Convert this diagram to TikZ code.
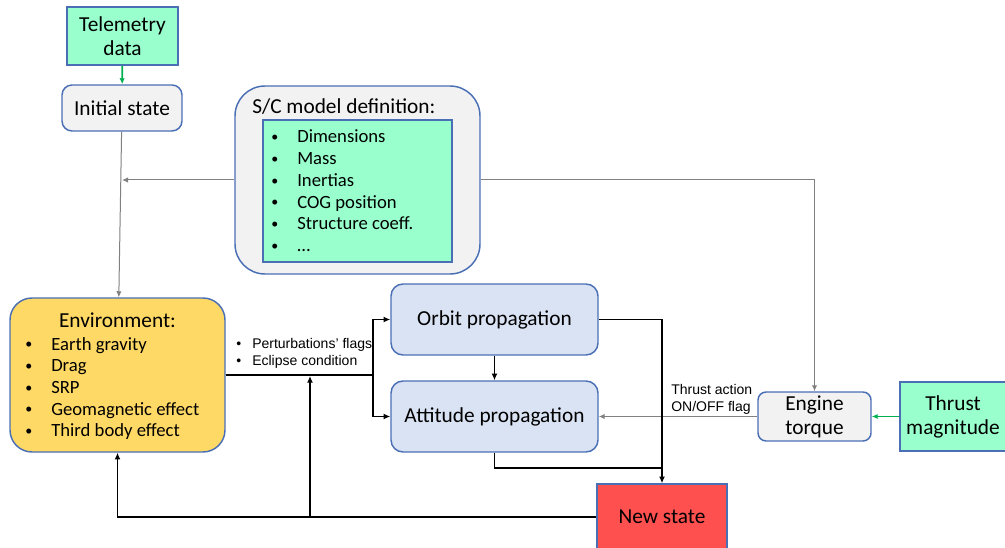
\documentclass[tikz,border=0pt]{standalone}
\usepackage{fontspec}
\setmainfont{Carlito}
\newfontfamily\smallfont{Liberation Sans}
\usetikzlibrary{arrows.meta}
\definecolor{mint}{HTML}{99FFCC}
\definecolor{boxblue}{HTML}{4A6FB5}
\definecolor{lightgray}{HTML}{F2F2F2}
\definecolor{gold}{HTML}{FFD966}
\definecolor{paleblue}{HTML}{DAE3F3}
\definecolor{newred}{HTML}{FF5050}
\definecolor{arrowgreen}{HTML}{00B050}
\definecolor{linegray}{HTML}{808080}
\newcommand{\dotitem}[1]{\makebox[#1][l]{\raisebox{0.15ex}{\scalebox{0.75}{\textbullet}}}}
\begin{document}
\begin{tikzpicture}[x=0.75pt,y=-0.75pt,
    box/.style={draw=boxblue,line width=1.1pt,align=center,inner sep=0pt,
      font=\fontsize{16}{18}\selectfont},
    list/.style={anchor=base west,inner sep=0pt,font=\fontsize{14}{16.3}\selectfont},
    label/.style={anchor=base west,inner sep=0pt,font=\smallfont\fontsize{10.5}{12.75}\selectfont},
    flow/.style={line width=1.3pt,-{Latex[length=5pt,width=4.5pt]}},
    info/.style={draw=linegray,line width=0.75pt,-{Latex[length=4.5pt,width=4pt]}},
    feed/.style={draw=arrowgreen,line width=1.3pt,-{Latex[length=4.5pt,width=4pt]}}]
  \useasboundingbox (0,0) rectangle (1005,548);

  % boxes
  \node[box,fill=mint,minimum width=83.25pt,minimum height=43.5pt] (tele) at (122.5,36) {Telemetry\\data};
  \node[box,fill=lightgray,rounded corners=7.5pt,minimum width=90pt,minimum height=34.5pt] (init) at (122,108) {Initial state};
  \node[box,fill=lightgray,rounded corners=22.5pt,minimum width=183.75pt,minimum height=141pt] (sc) at (357.5,180) {};
  \node[box,fill=mint,minimum width=141.75pt,minimum height=106.5pt] (model) at (357.5,191) {};
  \node[box,fill=gold,rounded corners=16.5pt,minimum width=161.25pt,minimum height=115.5pt] (env) at (117.5,375) {};
  \node[box,fill=paleblue,rounded corners=9pt,minimum width=155.25pt,minimum height=53.25pt] (orbit) at (494.5,319.5) {Orbit propagation};
  \node[box,fill=paleblue,rounded corners=9pt,minimum width=155.25pt,minimum height=53.25pt] (att) at (494.5,416.5) {Attitude propagation};
  \node[box,fill=newred,minimum width=97.5pt,minimum height=49.5pt] (new) at (662,517) {New state};
  \node[box,fill=lightgray,rounded corners=6pt,minimum width=84.75pt,minimum height=36.75pt] (engine) at (814.5,416.5) {Engine\\torque};
  \node[box,fill=mint,minimum width=79.5pt,minimum height=51.75pt] (thrust) at (953,416.5) {Thrust\\magnitude};

  % box contents
  \node[anchor=base west,inner sep=0pt,font=\fontsize{16}{18}\selectfont] (sctitle) at (252,114) {S/C model definition:};
  \node[list] (sclist) at (271,143) {\begin{tabular}[t]{@{}l@{}}
    \dotitem{19.5pt}Dimensions\\
    \dotitem{19.5pt}Mass\\
    \dotitem{19.5pt}Inertias\\
    \dotitem{19.5pt}COG position\\
    \dotitem{19.5pt}Structure coeff.\\
    \dotitem{19.5pt}…
  \end{tabular}};
  \node[anchor=base,inner sep=0pt,font=\fontsize{16}{18}\selectfont] (envtitle) at (117.5,328) {Environment:};
  \node[list] (envlist) at (25,350) {\begin{tabular}[t]{@{}l@{}}
    \dotitem{19.5pt}Earth gravity\\
    \dotitem{19.5pt}Drag\\
    \dotitem{19.5pt}SRP\\
    \dotitem{19.5pt}Geomagnetic effect\\
    \dotitem{19.5pt}Third body effect
  \end{tabular}};

  % labels
  \node[label] (flags) at (236,349) {\begin{tabular}[t]{@{}l@{}}
    \makebox[12pt][l]{\textbullet}Perturbations’ flags\\
    \makebox[12pt][l]{\textbullet}Eclipse condition
  \end{tabular}};
  \node[label] (onoff) at (671,394) {\begin{tabular}[t]{@{}l@{}}
    Thrust action\\ON/OFF flag
  \end{tabular}};

  % junctions
  \coordinate (split) at (373,375);
  \coordinate (merge) at (662,468);
  \coordinate (fb) at (310,517);
  \coordinate (fbtop) at (310,376);
  \coordinate (hook) at (122,180);

  % connectors
  \draw[feed] (tele) -- (init);
  \draw[feed] (thrust) -- (engine);
  \draw[info] (init) -- (env);
  \draw[info] (sc.west) -- (hook);
  \draw[info] (sc.east) -| (engine.north);
  \draw[info] (engine) -- (att);
  \begin{scope}[line width=1.3pt]
    \draw (env) -- (split);
    \draw[flow] (split) |- (orbit);
    \draw[flow] (split) |- (att);
    \draw[flow] (orbit) -- (att);
    \draw[flow] (orbit) -| (new);
    \draw (att) |- (merge);
    \draw[flow] (new) -| (env);
    \draw[flow] (fb) -- (fbtop);
  \end{scope}
\end{tikzpicture}
\end{document}
